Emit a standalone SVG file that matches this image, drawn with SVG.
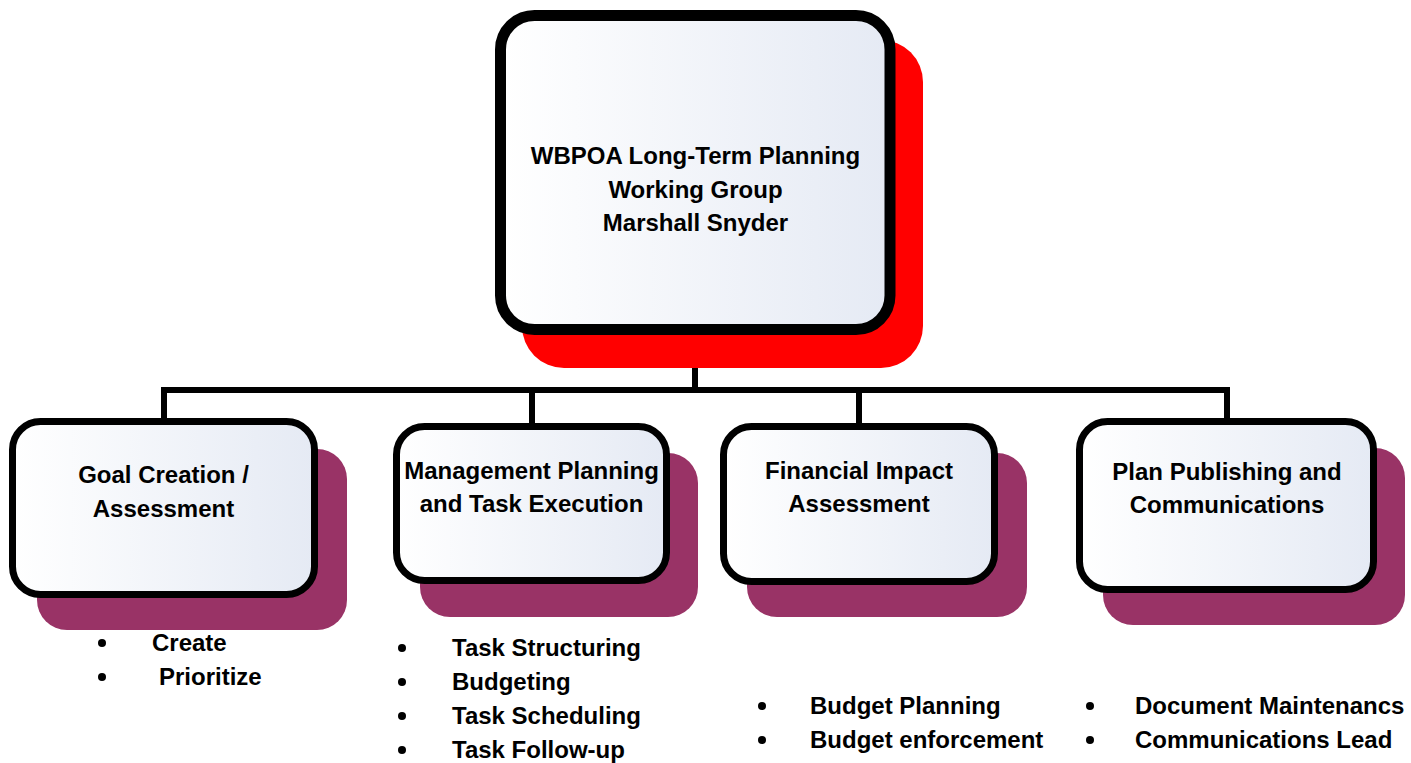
<svg xmlns="http://www.w3.org/2000/svg" width="1411" height="763" viewBox="0 0 1411 763">
<defs>
<linearGradient id="fillg" x1="0" y1="0" x2="1" y2="0">
<stop offset="0" stop-color="#ffffff"/>
<stop offset="1" stop-color="#e5eaf4"/>
</linearGradient>
<style>
.box{fill:url(#fillg);stroke:#000;stroke-width:7}
.top{fill:url(#fillg);stroke:#000;stroke-width:11}
.shp{fill:#993366}
.shr{fill:#ff0000}
.t{font-family:"Liberation Sans",Arial,sans-serif;font-weight:bold;font-size:24px;fill:#000}
.c{text-anchor:middle}
.wire{fill:none;stroke:#000;stroke-width:6;stroke-linejoin:miter}
</style>
</defs>
<rect width="1411" height="763" fill="#ffffff"/>
<g id="connectors">
<path class="wire" d="M695 333 V390"/>
<path class="wire" d="M164 419 V390 H1227 V419"/>
<path class="wire" d="M532 390 V424"/>
<path class="wire" d="M859 390 V424"/>
</g>
<g id="root">
<rect class="shr" x="522" y="40" width="401" height="328" rx="42"/>
<rect class="top" x="500.5" y="15.5" width="389.5" height="314" rx="34"/>
<text class="t c" x="695.5" y="164">WBPOA Long-Term Planning</text>
<text class="t c" x="695.5" y="197.5">Working Group</text>
<text class="t c" x="695.5" y="231">Marshall Snyder</text>
</g>
<g id="goal">
<rect class="shp" x="37" y="449" width="310" height="181" rx="30"/>
<rect class="box" x="12.5" y="421.5" width="302" height="173" rx="28"/>
<text class="t c" x="163.5" y="483">Goal Creation /</text>
<text class="t c" x="163.5" y="517">Assessment</text>
<circle cx="102" cy="643" r="4"/>
<text class="t" x="152" y="651">Create</text>
<circle cx="102" cy="677" r="4"/>
<text class="t" x="159" y="685">Prioritize</text>
</g>
<g id="management">
<rect class="shp" x="420" y="453" width="278" height="164" rx="30"/>
<rect class="box" x="396.5" y="426.5" width="270" height="154" rx="28"/>
<text class="t c" x="531.5" y="479">Management Planning</text>
<text class="t c" x="531.5" y="512">and Task Execution</text>
<circle cx="402" cy="648" r="4"/>
<text class="t" x="452" y="656">Task Structuring</text>
<circle cx="402" cy="682" r="4"/>
<text class="t" x="452" y="690">Budgeting</text>
<circle cx="402" cy="716" r="4"/>
<text class="t" x="452" y="724">Task Scheduling</text>
<circle cx="402" cy="750" r="4"/>
<text class="t" x="452" y="758">Task Follow-up</text>
</g>
<g id="financial">
<rect class="shp" x="747" y="453" width="280" height="164" rx="30"/>
<rect class="box" x="723.5" y="426.5" width="271" height="155" rx="28"/>
<text class="t c" x="859" y="479">Financial Impact</text>
<text class="t c" x="859" y="512">Assessment</text>
<circle cx="762" cy="706" r="4"/>
<text class="t" x="810" y="714">Budget Planning</text>
<circle cx="762" cy="740" r="4"/>
<text class="t" x="810" y="748">Budget enforcement</text>
</g>
<g id="publishing">
<rect class="shp" x="1103" y="448" width="302" height="177" rx="30"/>
<rect class="box" x="1079.5" y="421.5" width="294" height="168" rx="28"/>
<text class="t c" x="1227" y="480">Plan Publishing and</text>
<text class="t c" x="1227" y="513">Communications</text>
<circle cx="1090" cy="706" r="4"/>
<text class="t" x="1135" y="714">Document Maintenancs</text>
<circle cx="1090" cy="740" r="4"/>
<text class="t" x="1135" y="748">Communications Lead</text>
</g>
</svg>
